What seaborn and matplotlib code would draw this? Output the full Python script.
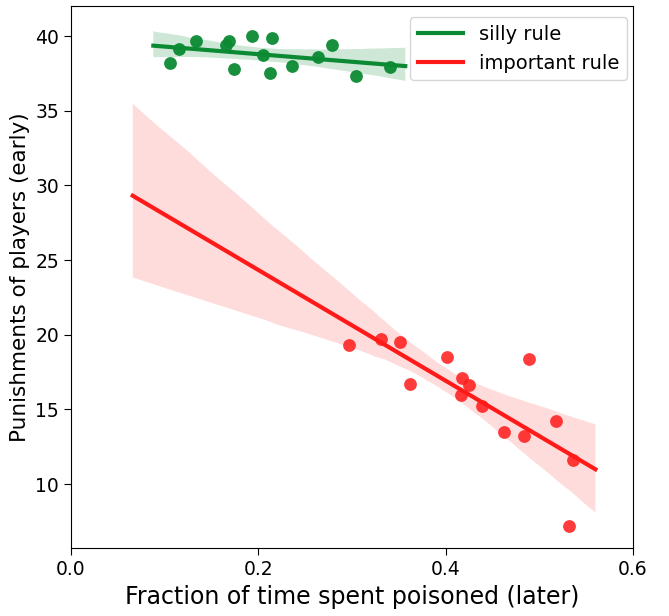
import numpy as np
import seaborn as sns
import matplotlib.pyplot as plt

# silly rule (green)
silly_x = [0.106, 0.115, 0.134, 0.169, 0.166, 0.193, 0.215, 0.174, 0.205, 0.213,
           0.236, 0.264, 0.279, 0.304, 0.341]
silly_y = [38.2, 39.1, 39.7, 39.7, 39.4, 40.0, 39.9, 37.8, 38.7, 37.5,
           38.0, 38.6, 39.4, 37.3, 37.9]

# important rule (red)
imp_x = [0.297, 0.331, 0.351, 0.362, 0.402, 0.418, 0.425, 0.417, 0.439, 0.462,
         0.484, 0.489, 0.518, 0.536, 0.532]
imp_y = [19.3, 19.7, 19.5, 16.7, 18.5, 17.1, 16.6, 15.95, 15.2, 13.5,
         13.2, 18.4, 14.2, 11.6, 7.2]

# span of each fitted line
silly_span = (0.088, 0.357)
imp_span = (0.066, 0.560)

green = '#0b8a33'
red = '#ff1a1a'

fig = plt.figure(figsize=(6.69, 6.16), dpi=100)
ax = fig.add_axes([0.106, 0.110, 0.840, 0.880])

# truncate=False extends the fit over the current xlim, so set the span first
ax.set_xlim(*silly_span)
sns.regplot(x=np.array(silly_x), y=np.array(silly_y), ax=ax, truncate=False,
            color=green, scatter_kws={'s': 85, 'alpha': 0.95, 'linewidths': 0},
            line_kws={'lw': 3, 'label': 'silly rule'})
# slightly stronger green confidence band
for coll in ax.collections:
    if coll.__class__.__name__ in ('PolyCollection', 'FillBetweenPolyCollection'):
        coll.set_alpha(0.2)
ax.set_xlim(*imp_span)
sns.regplot(x=np.array(imp_x), y=np.array(imp_y), ax=ax, truncate=False,
            color=red, scatter_kws={'s': 85, 'alpha': 0.85, 'linewidths': 0},
            line_kws={'lw': 3, 'label': 'important rule'})

ax.set_xlim(0, 0.6)
ax.set_ylim(5.7, 42.0)
ax.set_xticks([0.0, 0.2, 0.4, 0.6])
ax.set_yticks([10, 15, 20, 25, 30, 35, 40])
ax.tick_params(labelsize=13.5, length=5)

ax.set_xlabel('Fraction of time spent poisoned (later)', fontsize=17)
ax.set_ylabel('Punishments of players (early)', fontsize=15.5)
ax.legend(loc='upper right', bbox_to_anchor=(0.989, 0.98), borderaxespad=0,
          fontsize=14, handlelength=2.3)

plt.savefig('out.png', dpi=100)
